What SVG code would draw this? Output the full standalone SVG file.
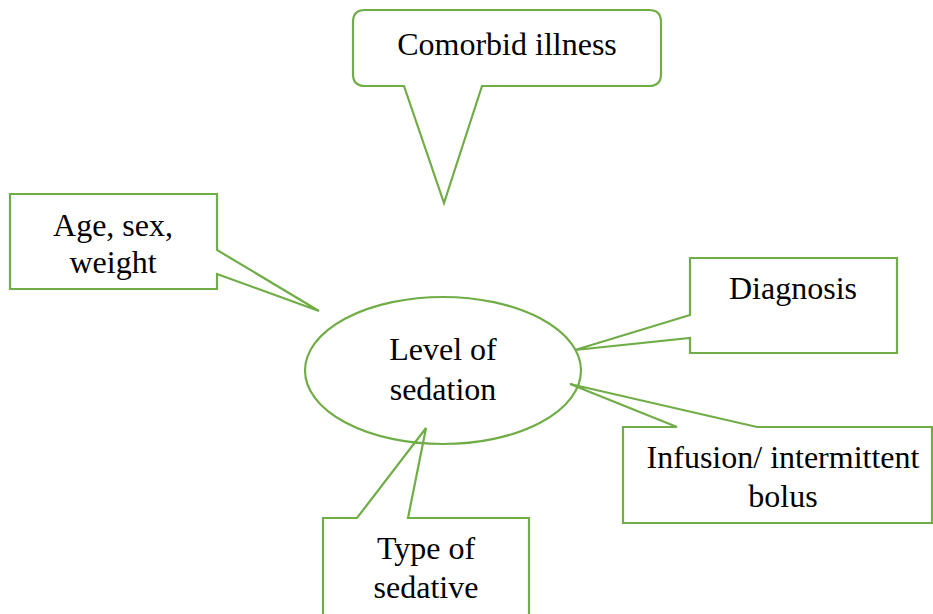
<svg xmlns="http://www.w3.org/2000/svg" width="933" height="614" viewBox="0 0 933 614">
<style>
.shape{fill:none;stroke:#70AD47;stroke-width:2.2;stroke-linejoin:miter}
.lbl{font-family:"Liberation Serif","Times New Roman",serif;font-size:32px;fill:#000;text-anchor:middle}
</style>
<rect width="933" height="614" fill="#fff"/>
<g id="level-of-sedation">
<ellipse class="shape" cx="443" cy="370.5" rx="138" ry="73.5" style="fill:#fff"/>
<text class="lbl" x="443" y="360">Level of</text>
<text class="lbl" x="443" y="400">sedation</text>
</g>
<g id="comorbid-illness">
<path class="shape" d="M365,10 H649 Q661,10 661,22 V74 Q661,86 649,86 H482 L444,203 L404,86 H365 Q353,86 353,74 V22 Q353,10 365,10 Z"/>
<text class="lbl" x="507" y="55">Comorbid illness</text>
</g>
<g id="age-sex-weight">
<path class="shape" d="M10,194 H217 V250 L319,311 L217,274 V289 H10 Z"/>
<text class="lbl" x="113" y="236">Age, sex,</text>
<text class="lbl" x="113" y="273">weight</text>
</g>
<g id="diagnosis">
<path class="shape" d="M690,258 H897 V353 H690 V338 L575,350 L690,315 Z"/>
<text class="lbl" x="793" y="299">Diagnosis</text>
</g>
<g id="infusion-bolus">
<path class="shape" d="M623,427 H677 L570,384 L757,427 H932 V523 H623 Z"/>
<text class="lbl" x="783" y="468">Infusion/ intermittent</text>
<text class="lbl" x="783" y="507">bolus</text>
</g>
<g id="type-of-sedative">
<path class="shape" d="M323,518 H357 L426,428 L408,518 H529 V620 H323 Z"/>
<text class="lbl" x="426" y="559">Type of</text>
<text class="lbl" x="426" y="598">sedative</text>
</g>
</svg>
